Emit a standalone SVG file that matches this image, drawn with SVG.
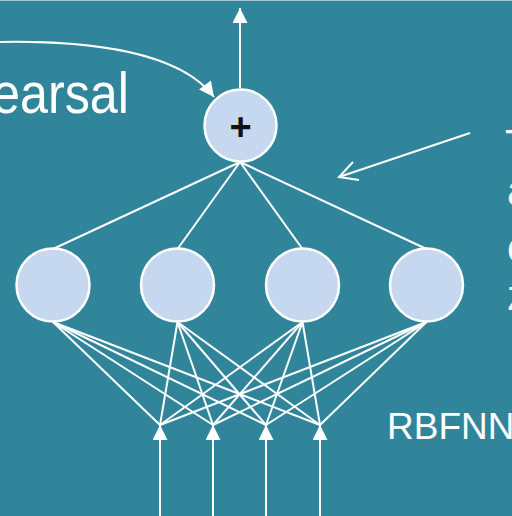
<svg xmlns="http://www.w3.org/2000/svg" width="512" height="516" viewBox="0 0 512 516">
  <defs>
    <style>
      .wire { stroke: #ffffff; stroke-width: 2; fill: none; }
      .neuron { fill: #c6d8ef; stroke: #ffffff; stroke-width: 2.5; }
      .label { fill: #ffffff; font-family: "Liberation Sans", Arial, sans-serif; }
    </style>
    <marker id="triBig" viewBox="0 0 10 10" refX="10" refY="5" markerWidth="16" markerHeight="15" markerUnits="userSpaceOnUse" orient="auto">
      <path d="M0,0 L10,5 L0,10 z" fill="#ffffff"/>
    </marker>
  </defs>

  <!-- slide background -->
  <rect x="0" y="0" width="512" height="516" fill="#31859b"/>
  <line x1="0" y1="0.5" x2="512" y2="0.5" stroke="#9cc6d2" stroke-width="1"/>

  <!-- connectors -->
  <g id="connectors">
    <!-- output arrow -->
    <line class="wire" x1="240" y1="88" x2="240" y2="8" marker-end="url(#triBig)"/>
    <!-- sum node to hidden layer -->
    <line class="wire" x1="240" y1="162" x2="53" y2="249"/>
    <line class="wire" x1="240" y1="162" x2="177.5" y2="249"/>
    <line class="wire" x1="240" y1="162" x2="302.5" y2="249"/>
    <line class="wire" x1="240" y1="162" x2="426.5" y2="249"/>
    <!-- hidden layer to inputs -->
    <g class="wire">
      <line x1="53" y1="322" x2="160" y2="425"/>
      <line x1="53" y1="322" x2="213" y2="425"/>
      <line x1="53" y1="322" x2="266" y2="425"/>
      <line x1="53" y1="322" x2="320" y2="425"/>
      <line x1="177.5" y1="322" x2="160" y2="425"/>
      <line x1="177.5" y1="322" x2="213" y2="425"/>
      <line x1="177.5" y1="322" x2="266" y2="425"/>
      <line x1="177.5" y1="322" x2="320" y2="425"/>
      <line x1="302.5" y1="322" x2="160" y2="425"/>
      <line x1="302.5" y1="322" x2="213" y2="425"/>
      <line x1="302.5" y1="322" x2="266" y2="425"/>
      <line x1="302.5" y1="322" x2="320" y2="425"/>
      <line x1="426.5" y1="322" x2="160" y2="425"/>
      <line x1="426.5" y1="322" x2="213" y2="425"/>
      <line x1="426.5" y1="322" x2="266" y2="425"/>
      <line x1="426.5" y1="322" x2="320" y2="425"/>
    </g>
    <!-- input arrows -->
    <line class="wire" x1="160" y1="520" x2="160" y2="425" marker-end="url(#triBig)"/>
    <line class="wire" x1="213" y1="520" x2="213" y2="425" marker-end="url(#triBig)"/>
    <line class="wire" x1="266" y1="520" x2="266" y2="425" marker-end="url(#triBig)"/>
    <line class="wire" x1="320" y1="520" x2="320" y2="425" marker-end="url(#triBig)"/>
    <!-- curved callout arrow into the sum node -->
    <path class="wire" d="M-5,42 C90,40 180,52 214,97" marker-end="url(#triBig)"/>
    <!-- pointer arrow with open head -->
    <line class="wire" x1="470" y1="133" x2="339" y2="177"/>
    <polyline class="wire" points="353,162 339,177 359,180"/>
  </g>

  <!-- summation node -->
  <g id="sum">
    <circle class="neuron" cx="240.5" cy="125.5" r="36"/>
    <text x="240.5" y="140" text-anchor="middle" font-family="Liberation Sans, Arial, sans-serif" font-size="38" font-weight="bold" fill="#111111">+</text>
  </g>

  <!-- hidden (radial basis) neurons -->
  <g id="h1"><circle class="neuron" cx="53" cy="285" r="36.5"/></g>
  <g id="h2"><circle class="neuron" cx="177.5" cy="285" r="36.5"/></g>
  <g id="h3"><circle class="neuron" cx="302.5" cy="285" r="36.5"/></g>
  <g id="h4"><circle class="neuron" cx="426.5" cy="285" r="36.5"/></g>

  <!-- labels -->
  <g id="labels">
    <text class="label" x="-8" y="113" font-size="58" textLength="137" lengthAdjust="spacingAndGlyphs">earsal</text>
    <text class="label" x="387" y="439" font-size="37">RBFNN</text>
    <text class="label" x="505" y="159" font-size="42">T</text>
    <text class="label" x="507" y="205" font-size="42">a</text>
    <text class="label" x="507" y="262" font-size="42">c</text>
    <text class="label" x="507" y="310" font-size="42">z</text>
  </g>
</svg>
